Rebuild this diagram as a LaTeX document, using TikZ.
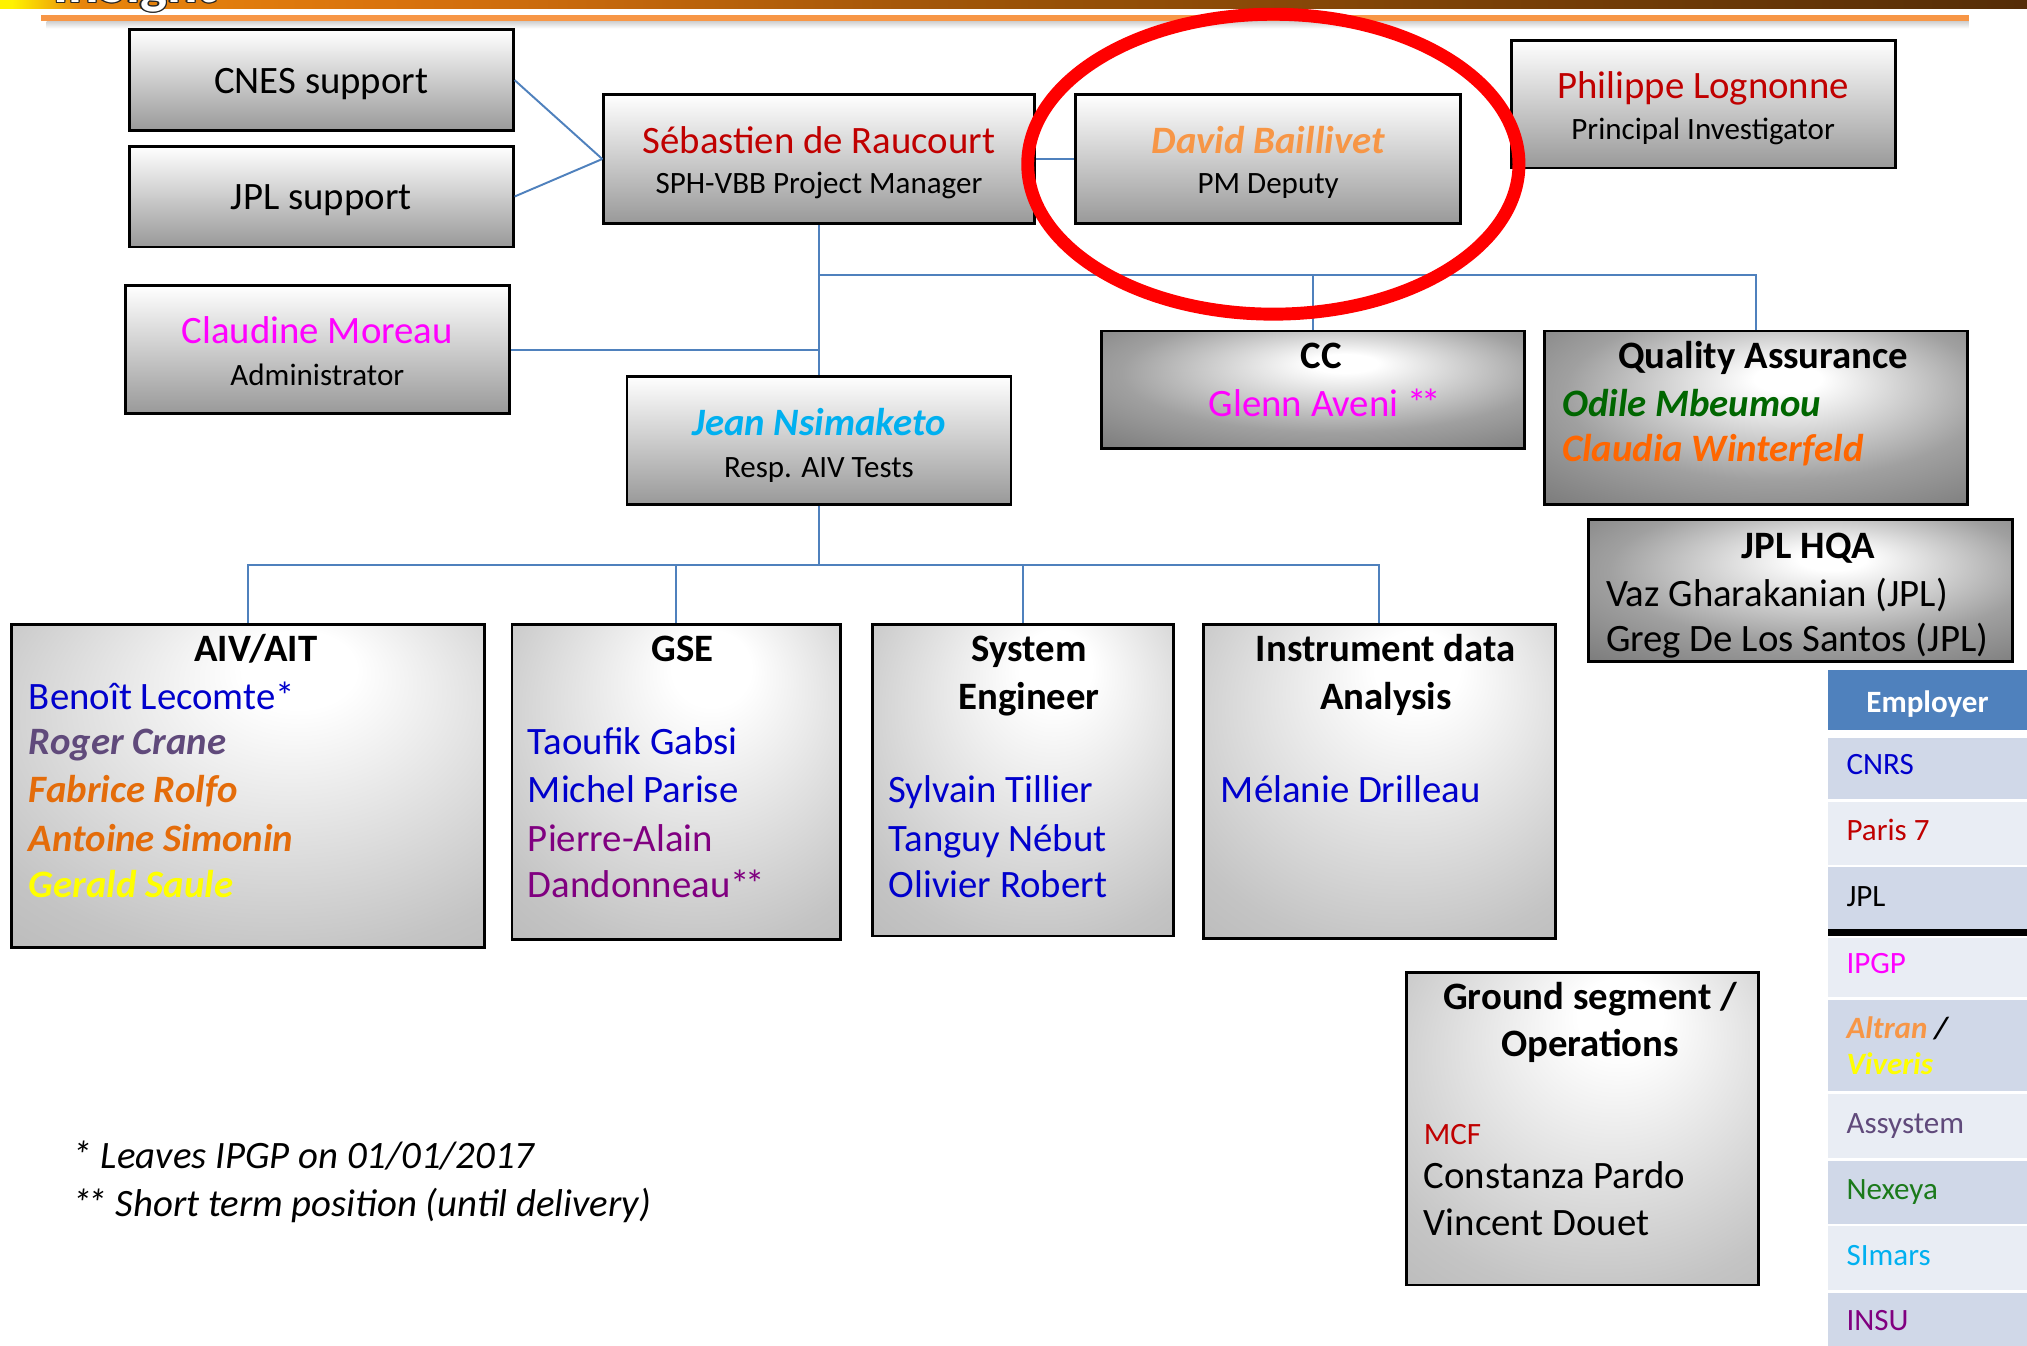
\documentclass[tikz,border=0pt]{standalone}
\usepackage{fontspec}
\setmainfont{Carlito}
\usetikzlibrary{calc}
\newcommand{\twoast}{*\kern-0.12em*}
\definecolor{connblue}{HTML}{4F81BD}
\definecolor{hdrblue}{HTML}{4F81BD}
\definecolor{rowA}{HTML}{D0D8E8}
\definecolor{rowB}{HTML}{E9EDF4}
\definecolor{cred}{HTML}{C00000}
\definecolor{cmag}{HTML}{FF00FF}
\definecolor{cblue}{HTML}{0000CC}
\definecolor{ccyan}{HTML}{00B0F0}
\definecolor{corange}{HTML}{F79646}
\definecolor{cdorange}{HTML}{E46C0A}
\definecolor{cwint}{HTML}{FF6600}
\definecolor{cpurp}{HTML}{604A7B}
\definecolor{cplum}{HTML}{800080}
\definecolor{cgreen}{HTML}{006600}
\definecolor{cnex}{HTML}{1B7A1B}
\definecolor{cyel}{HTML}{FFFF00}
\definecolor{bandY}{HTML}{FFF200}
\definecolor{bandO}{HTML}{E8850C}
\definecolor{bandO2}{HTML}{D8720E}
\definecolor{bandB1}{HTML}{9A5208}
\definecolor{bandB2}{HTML}{552D08}
\definecolor{oline}{HTML}{F79646}
\definecolor{gA0}{HTML}{A0A0A0}
\definecolor{g7c}{HTML}{7A7A7A}
\definecolor{g70}{HTML}{6C6C6C}
\definecolor{gBD}{HTML}{C4C4C4}
\definecolor{gA6}{HTML}{A6A6A6}
\definecolor{g99}{HTML}{999999}
\pgfdeclarehorizontalshading{bandshade}{100bp}{color(0bp)=(bandY); color(25.3bp)=(bandY); color(27bp)=(bandO); color(35bp)=(bandO2); color(50bp)=(bandB1); color(75bp)=(bandB2); color(100bp)=(bandB2)}
\pgfdeclareradialshading{ccshade}{\pgfpoint{4bp}{12bp}}{color(0bp)=(white); color(4bp)=(white); color(25bp)=(gA0); color(40bp)=(g7c); color(60bp)=(g70)}
\pgfdeclareradialshading{lowshade}{\pgfpoint{6bp}{20bp}}{color(0bp)=(white); color(6bp)=(white); color(35bp)=(gBD); color(60bp)=(gA6)}
\begin{document}
\begin{tikzpicture}[x=0.5pt,y=-0.5pt,
  box/.style={draw=black, line width=1.1pt, rectangle, inner sep=0pt},
  linbox/.style={box, top color=white, bottom color=g99},
  ccbox/.style={box, shading=ccshade},
  lowbox/.style={box, shading=lowshade},
  conn/.style={draw=connblue, line width=0.75pt},
  t15/.style={inner sep=0pt, font=\fontsize{15}{18}\selectfont},
  t12/.style={inner sep=0pt, font=\fontsize{12}{14}\selectfont},
  bt/.style={t15, font=\fontsize{15}{18}\selectfont\bfseries},
  bi/.style={t15, font=\fontsize{15}{18}\selectfont\bfseries\itshape},
  nm/.style={t15, anchor=base west},
  logo/.style={inner sep=0pt, anchor=base west, font=\fontsize{22}{26}\selectfont\bfseries}
]
\useasboundingbox (0,0) rectangle (1568,1041);
\fill[white] (0,0) rectangle (1568,1041);
% top band
\shade[shading=bandshade] (0,0) rectangle (1568,6.5);
\shade[top color=black!18, bottom color=white] (36,16.6) rectangle (1523,22);
\fill[oline] (32,11.8) rectangle (1523,16.6);
\foreach \dx/\dy [count=\k] in {-1/0,1/0,0/-1,0/1,-0.7/-0.7,0.7/0.7,-0.7/0.7,0.7/-0.7}
  {\node[logo, text=black!85] (logo\k) at ({41+\dx},{2+\dy}) {InSight};}
\node[logo, text=white] (logo) at (41,2) {InSight};

% boxes
\node[linbox, minimum width=148.5pt, minimum height=39pt] (cnes) at (248.5,62) {};
\node[linbox, minimum width=148.5pt, minimum height=39pt] (jpls) at (248.5,152) {};
\node[linbox, minimum width=166.5pt, minimum height=50pt] (seb) at (633.5,123) {};
\node[linbox, minimum width=149pt, minimum height=50pt] (david) at (981,123) {};
\node[linbox, minimum width=148.5pt, minimum height=49.5pt] (phil) at (1317.5,80.5) {};
\node[linbox, minimum width=148.5pt, minimum height=49.5pt] (claud) at (245.5,270.5) {};
\node[linbox, minimum width=148.5pt, minimum height=49.5pt] (jean) at (633.5,340.5) {};
\node[ccbox, minimum width=163.5pt, minimum height=45.5pt] (cc) at (1015.5,301.5) {};
\node[ccbox, minimum width=163.5pt, minimum height=67pt] (qa) at (1358.5,323) {};
\node[ccbox, minimum width=164pt, minimum height=55pt] (hqa) at (1393,457) {};
\node[lowbox, minimum width=183pt, minimum height=125pt] (aiv) at (192,608) {};
\node[lowbox, minimum width=127pt, minimum height=122pt] (gse) at (523,605) {};
\node[lowbox, minimum width=116.5pt, minimum height=120.5pt] (sys) at (791.5,603.5) {};
\node[lowbox, minimum width=136pt, minimum height=121.5pt] (ida) at (1067,604.5) {};
\node[lowbox, minimum width=136pt, minimum height=121pt] (gs) at (1224,873) {};

% connectors
\draw[conn] (cnes.east) -- (seb.west);
\draw[conn] (jpls.east) -- (seb.west);
\draw[conn] (seb.east) -- (david.west);
\draw[conn] (seb.south) -- (jean.north);
\coordinate (hub1) at (633.5,213);
\draw[conn] (hub1) -| (cc.north);
\draw[conn] (hub1) -| (qa.north);
\draw[conn] (claud.east) -- (claud.east -| seb.south);
\coordinate (hub2) at (633.5,437);
\draw[conn] (jean.south) -- (hub2);
\draw[conn] (hub2) -| (aiv.north);
\draw[conn] (hub2) -| (gse.north);
\draw[conn] (hub2) -| (sys.north);
\draw[conn] (hub2) -| (ida.north);

% top box texts
\node[t15, anchor=base] (cnesT) at (248.5,72) {CNES support};
\node[t15, anchor=base] (jplsT) at (248.5,162) {JPL support};
\node[t15, anchor=base, text=cred] (sebT) at (633.5,119) {Sébastien de Raucourt};
\node[t12, anchor=base] (sebS) at (633.5,150) {SPH-VBB Project Manager};
\node[bi, anchor=base, text=corange] (davidT) at (981,119) {David Baillivet};
\node[t12, anchor=base] (davidS) at (981,150) {PM Deputy};
\node[t15, anchor=base, text=cred] (philT) at (1317.5,76) {Philippe Lognonne};
\node[t12, anchor=base] (philS) at (1317.5,108) {Principal Investigator};
\node[t15, anchor=base, text=cmag] (claudT) at (245.5,266) {Claudine Moreau};
\node[t12, anchor=base] (claudS) at (245.5,298) {Administrator};
\node[bi, anchor=base, text=ccyan] (jeanT) at (633.5,337) {Jean Nsimaketo};
\node[t12, anchor=base] (jeanS) at (633.5,369) {Resp. AIV Tests};
\node[bt, anchor=base] (ccT) at (1022,285) {CC};
\node[t15, anchor=base, text=cmag] (ccS) at (1025,322) {Glenn Aveni \twoast};
\node[bt, anchor=base] (qaT) at (1364,285) {Quality Assurance};
\node[bi, anchor=base west, text=cgreen] (qa1) at (1208,322) {Odile Mbeumou};
\node[bi, anchor=base west, text=cwint] (qa2) at (1208,357) {Claudia Winterfeld};
\node[bt, anchor=base] (hqaT) at (1399,432) {JPL HQA};
\node[nm] (hqa1) at (1242,469) {Vaz Gharakanian (JPL)};
\node[nm] (hqa2) at (1242,504) {Greg De Los Santos (JPL)};

% lower boxes texts
\node[bt, anchor=base] (aivT) at (198,512) {AIV/AIT};
\node[nm, text=cblue] (aiv1) at (22,549) {Benoît Lecomte*};
\node[bi, anchor=base west, text=cpurp] (aiv2) at (22,584) {Roger Crane};
\node[bi, anchor=base west, text=cdorange] (aiv3) at (22,621) {Fabrice Rolfo};
\node[bi, anchor=base west, text=cdorange] (aiv4) at (22,659) {Antoine Simonin};
\node[bi, anchor=base west, text=cyel] (aiv5) at (22,694) {Gerald Saule};

\node[bt, anchor=base] (gseT) at (528,512) {GSE};
\node[nm, text=cblue] (gse1) at (408,584) {Taoufik Gabsi};
\node[nm, text=cblue] (gse2) at (408,621) {Michel Parise};
\node[nm, text=cplum] (gse3) at (408,659) {Pierre-Alain};
\node[nm, text=cplum] (gse4) at (408,694) {Dandonneau\twoast};

\node[bt, anchor=base] (sysT1) at (796,512) {System};
\node[bt, anchor=base] (sysT2) at (796,549) {Engineer};
\node[nm, text=cblue] (sys1) at (687,621) {Sylvain Tillier};
\node[nm, text=cblue] (sys2) at (687,659) {Tanguy Nébut};
\node[nm, text=cblue] (sys3) at (687,694) {Olivier Robert};

\node[bt, anchor=base] (idaT1) at (1072,512) {Instrument data};
\node[bt, anchor=base] (idaT2) at (1072,549) {Analysis};
\node[nm, text=cblue] (ida1) at (944,621) {Mélanie Drilleau};

\node[bt, anchor=base] (gsT1) at (1230,781) {Ground segment /};
\node[bt, anchor=base] (gsT2) at (1230,817) {Operations};
\node[t12, anchor=base west, text=cred] (gs0) at (1101,885) {MCF};
\node[nm] (gs1) at (1101,919) {Constanza Pardo};
\node[nm] (gs2) at (1101,956) {Vincent Douet};

% footnotes
\node[t15, anchor=base west, font=\fontsize{15}{18}\selectfont\itshape] (fn1) at (56,904) {* Leaves IPGP on 01/01/2017};
\node[t15, anchor=base west, font=\fontsize{15}{18}\selectfont\itshape] (fn2) at (56,941) {\twoast\ Short term position (until delivery)};

% employer table
\fill[hdrblue] (1414,518) rectangle (1568,565);
\fill[rowA] (1414,571) rectangle (1568,618);
\fill[rowB] (1414,620.5) rectangle (1568,669);
\fill[rowA] (1414,671) rectangle (1568,718.5);
\fill[black] (1414,718.5) rectangle (1568,724);
\fill[rowB] (1414,725.5) rectangle (1568,771);
\fill[rowA] (1414,773.5) rectangle (1568,844);
\fill[rowB] (1414,846.5) rectangle (1568,895.5);
\fill[rowA] (1414,898) rectangle (1568,946.5);
\fill[rowB] (1414,948.5) rectangle (1568,997.5);
\fill[rowA] (1414,1000) rectangle (1568,1041);
\node[t12, anchor=base, text=white, font=\fontsize{12}{14}\selectfont\bfseries] (empH) at (1491,551) {Employer};
\node[t12, anchor=base west, text=cblue] (emp1) at (1428,599) {CNRS};
\node[t12, anchor=base west, text=cred] (emp2) at (1428,650) {Paris 7};
\node[t12, anchor=base west, text=black] (emp3) at (1428,701) {JPL};
\node[t12, anchor=base west, text=cmag] (emp4) at (1428,753) {IPGP};
\node[t12, anchor=base west, font=\fontsize{12}{14}\selectfont\bfseries\itshape] (emp5) at (1428,803) {\textcolor{corange}{Altran} /};
\node[t12, anchor=base west, text=cyel, font=\fontsize{12}{14}\selectfont\bfseries\itshape] (emp5b) at (1428,831) {Viveris};
\node[t12, anchor=base west, text=cpurp] (emp6) at (1428,877) {Assystem};
\node[t12, anchor=base west, text=cnex] (emp7) at (1428,928) {Nexeya};
\node[t12, anchor=base west, text=ccyan] (emp8) at (1428,979) {SImars};
\node[t12, anchor=base west, text=cplum] (emp9) at (1428,1029) {INSU};

% red ellipse
\draw[red, line width=5pt] (985,127) ellipse [x radius=95pt, y radius=58pt];
\end{tikzpicture}
\end{document}
